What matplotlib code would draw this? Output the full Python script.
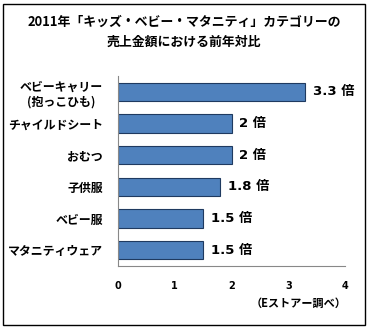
import matplotlib
matplotlib.use("Agg")
import matplotlib.pyplot as plt
from matplotlib.patches import Rectangle

plt.rcParams['font.family'] = ['Noto Sans CJK JP', 'DejaVu Sans']

# data (top to bottom in the picture)
categories = ["ベビーキャリー\n(抱っこひも)", "チャイルドシート", "おむつ", "子供服", "ベビー服", "マタニティウェア"]
ratios = [3.3, 2, 2, 1.8, 1.5, 1.5]
value_labels = ["3.3 倍", "2 倍", "2 倍", "1.8 倍", "1.5 倍", "1.5 倍"]
xticks = [0, 1, 2, 3, 4]

W, H = 368, 328
fig = plt.figure(figsize=(W / 100, H / 100), dpi=100)

# axes box in pixels: left 118, right 345, top 76, bottom 266
ax = fig.add_axes([118 / W, 1 - 266 / H, (345 - 118) / W, (266 - 76) / H])

ypos = list(range(len(categories)))
ax.barh(ypos, ratios, height=0.57, color="#4F81BD", edgecolor="#1F3A60", linewidth=0.8)
ax.set_ylim(len(categories) - 0.5, -0.5)
ax.set_xlim(0, 4)

for y, v, lab in zip(ypos, ratios, value_labels):
    ax.text(v + 0.14, y, lab, va="center", ha="left", fontsize=9.5, fontweight="bold",
            family=["DejaVu Sans", "Noto Sans CJK JP"])

ax.set_yticks(ypos)
ax.set_yticklabels(categories, fontsize=8.6, fontweight="bold", multialignment="center")
ax.set_xticks(xticks)
ax.set_xticklabels([str(t) for t in xticks], fontsize=7, fontweight="bold", family="DejaVu Sans")
ax.tick_params(axis="both", length=0)
ax.tick_params(axis="y", pad=11)
ax.tick_params(axis="x", pad=11)

for s in ["top", "right"]:
    ax.spines[s].set_visible(False)
ax.spines["left"].set_color("#888888")
ax.spines["bottom"].set_color("#888888")

fig.text(184 / W, 1 - 22 / H, "2011年「キッズ・ベビー・マタニティ」カテゴリーの",
         ha="center", va="center", fontsize=9.3, fontweight="bold")
fig.text(184 / W, 1 - 42 / H, "売上金額における前年対比",
         ha="center", va="center", fontsize=9.3, fontweight="bold")
fig.text(347 / W, 1 - 303 / H, "（Eストアー調べ）", ha="right", va="center",
         fontsize=8, fontweight="bold")

# outer frame
fig.patches.append(Rectangle((3 / W, 3 / H), (W - 6) / W, (H - 7) / H,
                             transform=fig.transFigure, fill=False,
                             edgecolor="black", linewidth=1))

fig.savefig("out.png", dpi=100)
